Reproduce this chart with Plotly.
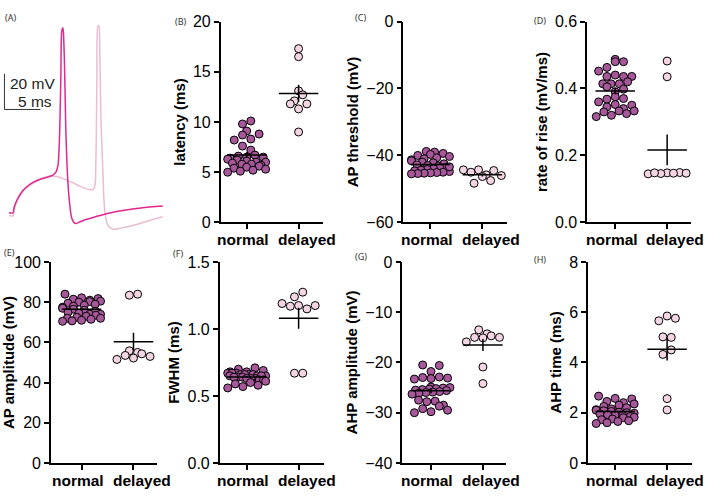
import numpy as np
import plotly.graph_objects as go

W_FIG, H_FIG = 709, 498

# ---------------- data ----------------
categories = ["normal", "delayed"]

# Panel A: example traces (time in ms, voltage in mV)
t_normal = [0, 0.56, 0.69, 0.97, 1.39, 1.94, 2.64, 3.47, 4.44, 5.42, 6.11, 6.53, 6.81, 6.94, 7.08, 7.22,
            7.36, 7.5, 7.64, 7.78, 7.92, 8.19, 8.47, 8.75, 9.17, 9.72, 10.69, 12.08, 14.17, 16.25, 18.33, 21.39]
v_normal = [-65, -65, -62.3, -59.1, -55.8, -52.6, -49.9, -47.7, -46.1, -45.0, -43.9, -42.3, -38.5, -31.5, -15.3,
            13.0, 37.0, 38.5, 29.0, 6.4, -20.4, -47.7, -61.2, -68.2, -70.9, -70.4, -68.8, -67.2, -65.0, -63.4,
            -62.3, -61.2]
t_delayed = [0, 0.56, 0.69, 0.97, 1.39, 1.94, 2.64, 3.47, 4.44, 5.42, 6.11, 6.94, 7.92, 8.89, 10.0, 11.11,
             11.67, 11.94, 12.08, 12.22, 12.36, 12.5, 12.64, 12.78, 13.06, 13.33, 13.75, 14.44, 15.56, 17.36,
             19.03, 21.39]
v_delayed = [-66.6, -66.6, -63.4, -60.1, -56.4, -53.1, -50.4, -48.2, -46.1, -44.5, -44.5, -45.0, -46.6, -48.2,
             -50.4, -52.0, -52.0, -49.9, -36.9, 6.4, 39.0, 40.0, 22.6, -9.9, -42.3, -63.9, -72.0, -74.2, -73.6,
             -72.0, -69.9, -67.2]
scale_t, scale_v = 5, 20           # scale bar sizes
scale_t0, scale_v0 = -0.63, -7.2   # scale bar corner

latency_normal = [10.1, 9.8, 9.1, 8.8, 8.7, 8.3, 8.2, 7.6, 7.2, 6.7, 6.6, 6.5, 6.5, 6.4, 6.3, 6.2, 6.1, 6.0,
                  6.0, 5.9, 5.8, 5.8, 5.7, 5.6, 5.5, 5.4, 5.3, 5.2, 5.1, 5.0]
latency_delayed = [17.3, 16.5, 13.1, 12.7, 12.1, 11.8, 11.8, 11.3, 9.0]

threshold_normal = [-38.8, -39.0, -39.4, -39.7, -40.0, -40.3, -40.7, -41.0, -41.3, -41.6, -42.0, -42.2, -42.5,
                    -42.8, -43.0, -43.2, -43.5, -43.7, -44.0, -44.2, -44.4, -44.6, -44.8, -45.0, -45.1, -45.2,
                    -45.3, -45.4, -45.5, -43.4]
threshold_delayed = [-44.3, -44.5, -44.3, -45.0, -45.8, -46.0, -46.3, -47.5, -48.3]

rise_normal = [0.487, 0.480, 0.480, 0.463, 0.452, 0.440, 0.436, 0.436, 0.436, 0.420, 0.414, 0.414, 0.414,
               0.405, 0.398, 0.390, 0.375, 0.370, 0.368, 0.360, 0.352, 0.350, 0.345, 0.340, 0.333, 0.333,
               0.330, 0.325, 0.320, 0.316]
rise_delayed = [0.482, 0.435, 0.148, 0.149, 0.147, 0.146, 0.145, 0.148, 0.147]

amp_normal = [84.0, 82.2, 81.8, 81.5, 81.0, 80.5, 80.3, 80.0, 79.5, 79.0, 78.5, 78.0, 77.5, 77.0, 76.5, 76.0,
              75.5, 75.0, 74.5, 74.0, 74.0, 73.5, 73.0, 72.5, 72.0, 72.0, 71.5, 71.0, 70.7, 70.5]
amp_delayed = [84.0, 83.5, 55.8, 55.0, 54.3, 53.5, 53.0, 52.2, 51.5]

fwhm_normal = [0.71, 0.70, 0.69, 0.68, 0.68, 0.67, 0.67, 0.67, 0.66, 0.66, 0.66, 0.66, 0.65, 0.65, 0.65, 0.65,
               0.64, 0.64, 0.64, 0.63, 0.63, 0.63, 0.62, 0.62, 0.61, 0.60, 0.59, 0.58, 0.57, 0.56]
fwhm_delayed = [1.275, 1.24, 1.19, 1.175, 1.175, 1.17, 1.15, 0.67, 0.67]

ahp_amp_normal = [-20.5, -20.6, -21.8, -22.9, -23.0, -23.1, -23.2, -23.3, -24.9, -25.0, -25.1, -25.2, -25.3,
                  -25.4, -25.5, -25.6, -25.8, -25.9, -26.0, -26.1, -26.3, -27.5, -27.7, -27.8, -28.5, -28.7,
                  -29.2, -29.5, -29.8, -30.0]
ahp_amp_delayed = [-13.5, -14.3, -14.7, -15.0, -15.1, -15.0, -15.9, -20.9, -24.2]

ahp_time_normal = [2.66, 2.57, 2.55, 2.45, 2.40, 2.35, 2.30, 2.25, 2.20, 2.15, 2.12, 2.10, 2.08, 2.05, 2.02,
                   2.00, 1.98, 1.95, 1.92, 1.90, 1.88, 1.85, 1.82, 1.80, 1.75, 1.72, 1.68, 1.65, 1.60, 1.57]
ahp_time_delayed = [5.85, 5.76, 5.66, 5.02, 5.0, 4.5, 4.32, 2.56, 2.11]

panel_titles = ["latency (ms)", "AP threshold (mV)", "rate of rise (mV/ms)", "AP amplitude (mV)",
                "FWHM (ms)", "AHP amplitude (mV)", "AHP time (ms)"]
panel_ranges = [(0, 20), (-60, 0), (0, 0.6), (0, 100), (0, 1.5), (-40, 0), (0, 8)]
panel_dticks = [5, 20, 0.2, 20, 0.5, 10, 2]
panel_tickfmt = ["", "", ".1f", "", ".1f", "", ""]
panel_data = [(latency_normal, latency_delayed), (threshold_normal, threshold_delayed),
              (rise_normal, rise_delayed), (amp_normal, amp_delayed), (fwhm_normal, fwhm_delayed),
              (ahp_amp_normal, ahp_amp_delayed), (ahp_time_normal, ahp_time_delayed)]
panel_letters = ["(A)", "(B)", "(C)", "(D)", "(E)", "(F)", "(G)", "(H)"]

# ---------------- layout geometry (pixels) ----------------
# (x0, x1, y_top, y_bottom, xrange_start)
geom = [
    (220, 322, 14, 222, -0.50),
    (403, 507, 14, 222, -0.52),
    (587, 691, 14, 222, -0.54),
    (50, 156, 263, 471, -0.59),
    (219, 323, 263, 471, -0.52),
    (402, 506, 263, 471, -0.55),
    (588, 692, 263, 471, -0.52),
]
letter_pos = [(2, 10), (172, 14), (352, 10), (532, 13), (1, 253), (170, 254), (352, 257), (532, 260)]
label_shift = (-0.07, 0.16)   # category label offset from tick (category units)

COL_NORMAL = "#A6589B"
COL_DELAYED = "#F3D5E3"
TRACE_NORMAL = "#E0288F"
TRACE_DELAYED = "#EBBDD2"
FONT = "Arial, Liberation Sans, sans-serif"
DOT = 8.6
ROW_H = 7.0      # px height of a swarm row
SPACING = 8.3    # px between dots in a row
MAX_SPAN = 38.0  # px max centre-to-centre width of a row


def swarm(values, px_per_y, px_per_x):
    """Prism-like scatter: bin values into rows (pixel space) and spread each row symmetrically."""
    order = np.argsort(values)
    offs = np.zeros(len(values))
    rows, cur, start = [], [], None
    for idx in order:
        yp = values[idx] * px_per_y
        if start is None or yp - start > ROW_H:
            if cur:
                rows.append(cur)
            cur, start = [idx], yp
        else:
            cur.append(idx)
    if cur:
        rows.append(cur)
    for r, row in enumerate(rows):
        k = len(row)
        s = SPACING if (k - 1) * SPACING <= MAX_SPAN else MAX_SPAN / (k - 1)
        slots = [(j - (k - 1) / 2) * s for j in range(k)]
        # zig-zag: lower values on even slots, higher values on odd slots
        slot_order = list(range(0, k, 2)) + list(range(1, k, 2))
        if r % 2 == 1:
            slot_order = slot_order[::-1]
        for idx, sl in zip(row, slot_order):
            offs[idx] = slots[sl] / px_per_x
    return offs


fig = go.Figure()

# ---------------- Panel A ----------------
fig.add_trace(go.Scatter(x=t_delayed, y=v_delayed, mode="lines", line=dict(color=TRACE_DELAYED, width=1.5),
                         xaxis="x", yaxis="y", showlegend=False, hoverinfo="skip", line_shape="spline"))
fig.add_trace(go.Scatter(x=t_normal, y=v_normal, mode="lines", line=dict(color=TRACE_NORMAL, width=1.5),
                         xaxis="x", yaxis="y", showlegend=False, hoverinfo="skip", line_shape="spline"))
fig.add_trace(go.Scatter(x=[scale_t0, scale_t0, scale_t0 + scale_t],
                         y=[scale_v0 + scale_v, scale_v0, scale_v0], mode="lines",
                         line=dict(color="#333333", width=1), xaxis="x", yaxis="y",
                         showlegend=False, hoverinfo="skip"))

a_x0, a_x1, a_top, a_bot = 0, 170, 10, 240
layout = dict(
    width=W_FIG, height=H_FIG, margin=dict(l=0, r=0, t=0, b=0),
    paper_bgcolor="white", plot_bgcolor="white", showlegend=False,
    font=dict(family=FONT, color="black"),
    xaxis=dict(domain=[a_x0 / W_FIG, a_x1 / W_FIG], range=[-8 / 7.2, 162 / 7.2], visible=False),
    yaxis=dict(domain=[1 - a_bot / H_FIG, 1 - a_top / H_FIG],
               range=[-65 - (a_bot - 212) / 1.85, -65 + (212 - a_top) / 1.85], visible=False),
)
annotations = [
    dict(x=-0.14, y=7.4, xref="x", yref="y", text="20 mV", showarrow=False,
         xanchor="left", yanchor="middle", font=dict(size=15.5, family=FONT, color="#222")),
    dict(x=0.97, y=-2.8, xref="x", yref="y", text="5 ms", showarrow=False,
         xanchor="left", yanchor="middle", font=dict(size=15.5, family=FONT, color="#222")),
]

# ---------------- Panels B-H ----------------
for i, ((normal, delayed), title, (ymin, ymax), dt, fmt, (x0, x1, yt, yb, r0)) in enumerate(
        zip(panel_data, panel_titles, panel_ranges, panel_dticks, panel_tickfmt, geom)):
    n = i + 2
    xa, ya = f"x{n}", f"y{n}"
    width_px = x1 - x0
    r1 = r0 + width_px / 52.0
    px_per_x = width_px / (r1 - r0)
    px_per_y = (yb - yt) / (ymax - ymin)
    for gi, (vals, col) in enumerate([(normal, COL_NORMAL), (delayed, COL_DELAYED)]):
        vals = np.array(vals, dtype=float)
        offs = swarm(vals, px_per_y, px_per_x)
        fig.add_trace(go.Scatter(x=gi + offs, y=vals, mode="markers", xaxis=xa, yaxis=ya,
                                 marker=dict(size=DOT - 0.6, color=col, line=dict(color="black", width=1)),
                                 showlegend=False, hoverinfo="skip"))
    for gi, vals in enumerate([normal, delayed]):
        vals = np.array(vals, dtype=float)
        m = vals.mean()
        s = vals.std(ddof=1) / np.sqrt(len(vals))
        fig.add_trace(go.Scatter(x=[gi - 0.38, gi + 0.38, None, gi, gi], y=[m, m, None, m - s, m + s],
                                 mode="lines", line=dict(color="black", width=1.5), xaxis=xa, yaxis=ya,
                                 showlegend=False, hoverinfo="skip"))
    axis_common = dict(showline=True, linecolor="black", linewidth=1.5, ticks="outside", ticklen=5,
                       tickwidth=1.5, tickcolor="black", showgrid=False, zeroline=False)
    layout[f"xaxis{n}"] = dict(domain=[x0 / W_FIG, x1 / W_FIG], range=[r0, r1], anchor=ya,
                               tickmode="array", tickvals=[0, 1], ticktext=categories,
                               showticklabels=False, **axis_common)
    layout[f"yaxis{n}"] = dict(domain=[1 - yb / H_FIG, 1 - yt / H_FIG], range=[ymin, ymax], anchor=xa,
                               dtick=dt, tick0=ymin, tickformat=fmt,
                               tickfont=dict(size=16, family=FONT, color="black"),
                               title=dict(text=title, font=dict(size=15, family=FONT, color="black",
                                                                weight="bold"), standoff=4),
                               **axis_common)
    for gi, cat in enumerate(categories):
        annotations.append(dict(x=gi + label_shift[gi], y=1 - (yb + 18) / H_FIG, xref=xa, yref="paper",
                                text=cat, showarrow=False, xanchor="center", yanchor="middle",
                                font=dict(size=15.5, family=FONT, color="black", weight="bold")))

for (lx, ly), lt in zip(letter_pos, panel_letters):
    annotations.append(dict(x=lx / W_FIG, y=1 - ly / H_FIG, xref="paper", yref="paper", text=lt,
                            showarrow=False, xanchor="left", yanchor="middle",
                            font=dict(size=9, family="Noto Sans, sans-serif", color="#333")))

layout["annotations"] = annotations
fig.update_layout(**layout)
fig.write_html("out.html")
